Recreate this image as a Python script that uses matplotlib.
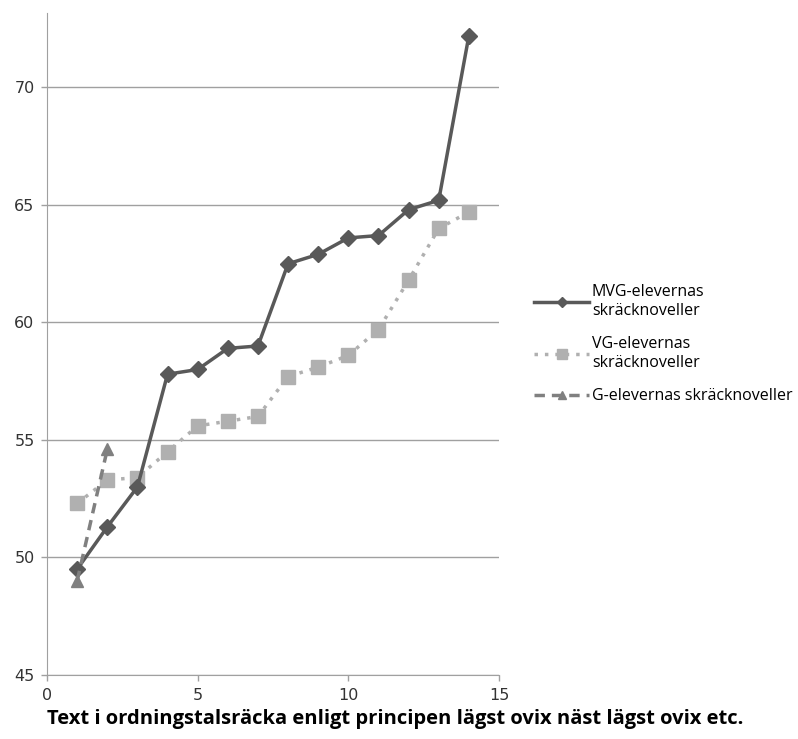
import matplotlib
matplotlib.use("Agg")
import matplotlib.pyplot as plt

# Data
x_mvg = list(range(1, 15))
mvg = [49.5, 51.3, 53.0, 57.8, 58.0, 58.9, 59.0, 62.5, 62.9, 63.6, 63.7, 64.8, 65.2, 72.2]
x_vg = list(range(1, 15))
vg = [52.3, 53.3, 53.4, 54.5, 55.6, 55.8, 56.0, 57.7, 58.1, 58.6, 59.7, 61.8, 64.0, 64.7]
x_g = [1, 2]
g = [49.0, 54.6]

labels = ["MVG-elevernas\nskräcknoveller",
          "VG-elevernas\nskräcknoveller",
          "G-elevernas skräcknoveller"]
xticks = [0, 5, 10, 15]
yticks = [45, 50, 55, 60, 65, 70]

fig = plt.figure(figsize=(7.98, 7.39), dpi=100)
ax = fig.add_axes([47 / 798, 1 - 675 / 739, (499 - 47) / 798, (675 - 13) / 739])

ax.plot(x_mvg, mvg, color="#595959", lw=2.5, marker="D", ms=8.5,
        label=labels[0], zorder=3)
ax.plot(x_vg, vg, color="#b0b0b0", lw=2.5, ls=(0, (1, 2)), marker="s", ms=10,
        label=labels[1], zorder=2)
ax.plot(x_g, g, color="#808080", lw=2.5, ls=(0, (3, 2)), marker="^", ms=9,
        label=labels[2], zorder=4)

ax.set_xlim(0, 15)
ax.set_ylim(45, 73.17)
ax.set_xticks(xticks)
ax.set_yticks(yticks)
ax.tick_params(labelsize=11.5, colors="#333333", direction="out", length=4,
               width=1, pad=5)
ax.tick_params(axis="both", color="#a0a0a0")
ax.yaxis.grid(True, color="#a0a0a0", lw=1)
ax.set_axisbelow(True)
for s in ["top", "right"]:
    ax.spines[s].set_visible(False)
for s in ["left", "bottom"]:
    ax.spines[s].set_color("#a0a0a0")

fig.text(47 / 798, 1 - 719 / 739,
         "Text i ordningstalsräcka enligt principen lägst ovix näst lägst ovix etc.",
         fontsize=14.5, fontweight="bold", ha="left", va="center",
         family="Open Sans")

leg = ax.legend(loc="upper left", bbox_to_anchor=(528 / 798, 1 - 278 / 739),
                bbox_transform=fig.transFigure, frameon=False,
                prop={"family": "Open Sans", "size": 11.5},
                handlelength=3.4, handletextpad=0.2, labelspacing=1.1,
                markerscale=0.65, borderaxespad=0)

fig.savefig("out.png", dpi=100)
